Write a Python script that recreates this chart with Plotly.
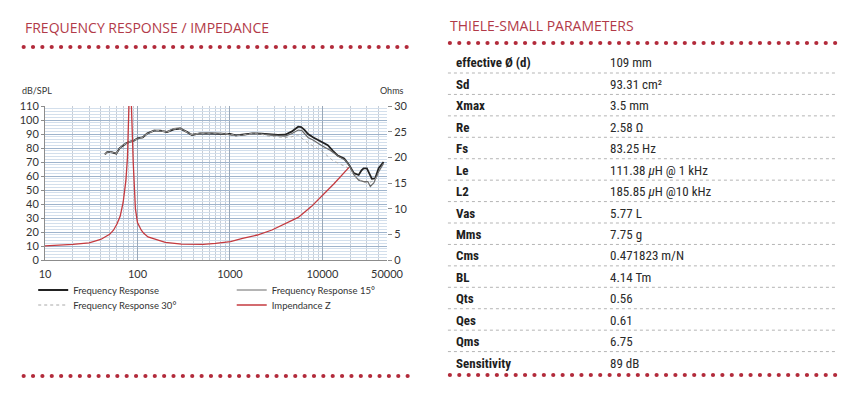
import plotly.graph_objects as go

# ---------------- DATA ----------------
fr_freq = [44.5, 47, 52, 56, 59, 64, 70, 76, 85, 93, 100, 114, 128, 151, 178, 209, 247, 291, 342, 388,
           474, 603, 839, 1000, 1162, 1400, 1750, 2200, 2620, 3300, 3955, 4640, 5480, 5900, 6400, 7000,
           8000, 8900, 10000, 11450, 13000, 14700, 17200, 19400, 21900, 24700, 26500, 27900, 30300,
           32000, 34300, 37300, 40600, 45900]
fr_db = [75.5, 77, 77, 76.5, 76, 79.8, 82, 83.5, 84.8, 85.5, 86.9, 87.5, 90.5, 92.4, 92.4, 91.4, 93.3,
         93.8, 91.5, 89.3, 90.5, 90.3, 90.5, 90, 89, 89.5, 90.5, 90.3, 89.8, 89.3, 89.5, 91.7, 95.2, 95,
         93, 90, 87.5, 85.7, 84, 82, 78, 74.5, 72.6, 68, 62, 60.7, 64, 65.5, 65.5, 62, 58, 58.3, 65.5, 70]

fr15_freq = [44.5, 47, 52, 56, 59, 64, 70, 76, 85, 93, 100, 114, 128, 151, 178, 209, 247, 291, 342, 388,
             474, 603, 839, 1000, 1162, 1400, 1750, 2200, 2620, 3300, 3955, 4640, 5480, 6000, 7000, 8000,
             10000, 12000, 15000, 17500, 19400, 21900, 24700, 28000, 31000, 33000, 36000, 40600, 45900]
fr15_db = [75.8, 76.8, 77.2, 76.3, 76.2, 79.5, 82.2, 83.3, 84.6, 85.8, 86.6, 87.8, 90.2, 92.6, 92.1, 91.7,
           93.9, 94.3, 91.2, 89.6, 90.2, 90.8, 90.2, 89.7, 88.8, 89.2, 90.2, 89.9, 89.3, 88.8, 88.5, 90.2,
           92.8, 92.5, 87.5, 85.5, 81.5, 78.5, 74, 71.4, 68, 61, 57, 56, 56, 52.5, 55, 63, 69]

fr30_freq = [44.5, 47, 52, 56, 59, 64, 70, 76, 85, 93, 100, 114, 128, 151, 178, 209, 247, 291, 342, 388,
             474, 603, 839, 1000, 1162, 1400, 1750, 2200, 2620, 3300, 3955, 4640, 5480, 6000, 7000, 8900,
             10000, 13000, 16000, 19400, 22000, 25000, 28000, 31000, 34000, 37000, 40600]
fr30_db = [75.3, 76.9, 76.8, 76.6, 76.1, 79.6, 81.8, 83.6, 84.9, 85.3, 86.8, 87.4, 90.4, 92.2, 92.6, 91.2,
           93.6, 93.5, 91.4, 89.4, 90.6, 90.4, 90.6, 89.8, 88.9, 89.3, 90.3, 89.8, 88.5, 88, 87.5, 88, 89.5,
           87, 83.5, 79.5, 77.5, 71, 68, 65.5, 61, 57.5, 55.5, 55, 56, 57, 62]

imp_freq = [10, 15, 20, 30, 40, 50, 55, 60, 65, 70, 75, 78, 80, 82, 83.25, 85, 87, 90, 95, 100, 110, 117,
            130, 150, 200, 300, 400, 514, 700, 1014, 1370, 1977, 2851, 3955, 5480, 7590, 9700, 13430, 19400]
imp_ohm = [2.75, 2.9, 3.05, 3.35, 4.0, 5.0, 5.8, 7.0, 8.5, 11.2, 15.5, 20, 25, 32, 38, 33, 25, 19, 10,
           7.3, 5.8, 5.2, 4.5, 4.1, 3.45, 3.1, 3.0, 3.05, 3.25, 3.57, 4.2, 4.87, 5.84, 7.0, 8.3, 10.4, 12.3,
           14.9, 18.05]

x_tick_vals = [10, 100, 1000, 10000, 50000]
x_tick_text = ["10", "100", "1000", "10000", "50000"]
db_ticks = list(range(0, 111, 10))
ohm_ticks = list(range(0, 31, 5))

param_names = ["effective Ø (d)", "Sd", "Xmax", "Re", "Fs", "Le", "L2", "Vas", "Mms", "Cms", "BL",
               "Qts", "Qes", "Qms", "Sensitivity"]
param_values = ["109 mm", "93.31 cm²", "3.5 mm", "2.58 Ω", "83.25 Hz", "111.38 <i>μ</i>H @ 1 kHz",
                "185.85 <i>μ</i>H @10 kHz", "5.77 L", "7.75 g", "0.471823 m/N", "4.14 Tm", "0.56",
                "0.61", "6.75", "89 dB"]

title_left = "FREQUENCY RESPONSE / IMPEDANCE"
title_right = "THIELE-SMALL PARAMETERS"

# ---------------- LAYOUT HELPERS ----------------
OFF = 8                      # page body margin
W, H = 858 - OFF, 396 - OFF
PL, PR, PT, PB = 39 - OFF, 387 - OFF, 106 - OFF, 260 - OFF


def px(x):
    return (x - OFF - PL) / (PR - PL)


def py(y):
    return (PB - (y - OFF)) / (PB - PT)


RED_TXT = "#b23a48"
RED_DOT = "#b22a3a"
TICKFONT = dict(family="Lato, Open Sans, sans-serif", size=11, color="#333333")
TABFONT = "Liberation Sans Narrow, Roboto Condensed, Roboto, sans-serif"

fig = go.Figure()
fig.add_trace(go.Scatter(x=fr_freq, y=fr_db, mode="lines", name="Frequency Response",
                         line=dict(color="#222222", width=1.8), legend="legend", showlegend=True))
fig.add_trace(go.Scatter(x=fr15_freq, y=fr15_db, mode="lines", name="Frequency Response 15°",
                         line=dict(color="#6a6a6a", width=1.2), legend="legend2", showlegend=True))
fig.add_trace(go.Scatter(x=fr30_freq, y=fr30_db, mode="lines", name="Frequency Response 30°",
                         line=dict(color="#a8a8a8", width=1, dash="dot"), legend="legend3", showlegend=True))
fig.add_trace(go.Scatter(x=imp_freq, y=imp_ohm, mode="lines", name="Impendance Z", yaxis="y2",
                         line=dict(color="#c43a3f", width=1.3), legend="legend4", showlegend=True))

leg_common = dict(font=dict(family="Lato, Open Sans, sans-serif", size=9.5, color="#333333"),
                  bgcolor="rgba(0,0,0,0)", xanchor="left", yanchor="middle", itemwidth=30)
shapes = []
annotations = []


def dot_row(x0, x1, y, n):
    step = (x1 - x0) / (n - 1)
    for i in range(n):
        cx = x0 + i * step
        shapes.append(dict(type="circle", xref="paper", yref="paper", xsizemode="pixel",
                           ysizemode="pixel", xanchor=px(cx), yanchor=py(y), x0=-2.1, x1=2.1,
                           y0=-2.1, y1=2.1, fillcolor=RED_DOT, line=dict(width=0)))


dot_row(17.3, 407, 47, 42)
dot_row(17.3, 408, 376, 42)
dot_row(451, 843, 43, 42)
dot_row(451, 843, 375, 42)

for i in range(len(param_names) - 1):
    yy = 73 + i * 21.43
    shapes.append(dict(type="line", xref="paper", yref="paper", x0=px(449), x1=px(844), y0=py(yy),
                       y1=py(yy), line=dict(color="#b5b5b5", width=1, dash="dot")))

for i, (n, v) in enumerate(zip(param_names, param_values)):
    yy = 63 + i * 21.43
    annotations.append(dict(text="<b>" + n + "</b>", x=px(455), y=py(yy), xref="paper", yref="paper",
                            xanchor="left", yanchor="middle", showarrow=False,
                            font=dict(family=TABFONT, size=13, color="#1e1e1e")))
    annotations.append(dict(text=v, x=px(612), y=py(yy), xref="paper", yref="paper",
                            xanchor="left", yanchor="middle", showarrow=False,
                            font=dict(family=TABFONT, size=13, color="#2a2a2a")))

annotations.append(dict(text=title_left, x=px(17), y=py(28), xref="paper", yref="paper",
                        xanchor="left", yanchor="middle", showarrow=False,
                        font=dict(family="Open Sans, Lato, sans-serif", size=14, color=RED_TXT)))
annotations.append(dict(text=title_right, x=px(449), y=py(25), xref="paper", yref="paper",
                        xanchor="left", yanchor="middle", showarrow=False,
                        font=dict(family="Open Sans, Lato, sans-serif", size=14, color=RED_TXT)))
annotations.append(dict(text="dB/SPL", x=px(14), y=py(90), xref="paper", yref="paper",
                        xanchor="left", yanchor="middle", showarrow=False,
                        font=dict(family="Lato, Open Sans, sans-serif", size=9, color="#333333")))
annotations.append(dict(text="Ohms", x=px(406), y=py(90), xref="paper", yref="paper",
                        xanchor="right", yanchor="middle", showarrow=False,
                        font=dict(family="Lato, Open Sans, sans-serif", size=9, color="#333333")))

fig.update_layout(
    width=W, height=H, showlegend=True,
    margin=dict(l=PL, r=W - PR, t=PT, b=H - PB, pad=0),
    paper_bgcolor="white", plot_bgcolor="white",
    xaxis=dict(type="log", range=[1, 4.69897], tickmode="array", tickvals=x_tick_vals,
               ticktext=x_tick_text, tickfont=TICKFONT, showgrid=True, gridcolor="#9aa8b8",
               gridwidth=1, minor=dict(dtick="D1", showgrid=True, gridcolor="#c6cdd6", gridwidth=1),
               showline=True, linecolor="#8c8c8c", ticks="", zeroline=False, ticklabelstandoff=4),
    yaxis=dict(range=[0, 110], tickmode="array", tickvals=db_ticks, tickfont=TICKFONT,
               showgrid=True, gridcolor="#9fb4cc", gridwidth=1,
               minor=dict(dtick=2, showgrid=True, gridcolor="#d3dfec", gridwidth=1),
               showline=True, linecolor="#8c8c8c", ticks="outside", ticklen=3, tickcolor="#8c8c8c",
               zeroline=False),
    yaxis2=dict(range=[0, 30], overlaying="y", side="right", tickmode="array", tickvals=ohm_ticks,
                tickfont=TICKFONT, showgrid=False, showline=False, ticks="outside", ticklen=4,
                tickcolor="#8c8c8c", zeroline=False),
    legend=dict(x=px(27), y=py(290), **leg_common),
    legend2=dict(x=px(229), y=py(290), **leg_common),
    legend3=dict(x=px(27), y=py(305), **leg_common),
    legend4=dict(x=px(229), y=py(305), **leg_common),
    shapes=shapes,
    annotations=annotations,
)

fig.write_html("out.html")
